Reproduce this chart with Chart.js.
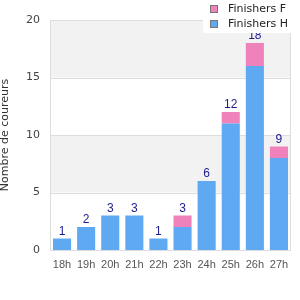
<!DOCTYPE html>
<html>
<head>
<meta charset="utf-8">
<script src="https://cdn.jsdelivr.net/npm/chart.js@4/dist/chart.umd.min.js"></script>
<style>
html,body{margin:0;padding:0;background:#fff;}
#wrap{width:300px;height:300px;position:relative;}
</style>
</head>
<body>
<div id="wrap"><canvas id="c" width="300" height="300"></canvas></div>
<script>
const categories = ["18h","19h","20h","21h","22h","23h","24h","25h","26h","27h"];
const finishersH = [1,2,3,3,1,2,6,11,16,8];
const finishersF = [0,0,0,0,0,1,0,1,2,1];
const seriesNames = ["Finishers F","Finishers H"];
const yTicks = [0,5,10,15,20];
const yTitle = "Nombre de coureurs";

const BLUE = "#5fa8f2";
const PINK = "#f082bb";
const FONT = "'Liberation Sans', Arial, sans-serif";
const FONT2 = "'DejaVu Sans', sans-serif";

const bandsPlugin = {
  id: 'bands',
  beforeDatasetsDraw(chart) {
    const {ctx, chartArea: a, scales: {y}} = chart;
    ctx.save();
    for (let i = 0; i < yTicks.length - 1; i++) {
      if (i % 2 === 1) {
        const top = y.getPixelForValue(yTicks[i+1]);
        const bot = y.getPixelForValue(yTicks[i]);
        ctx.fillStyle = "#f2f2f2";
        ctx.fillRect(a.left, top, a.right - a.left, bot - top);
      }
    }
    ctx.strokeStyle = "#dddddd";
    ctx.lineWidth = 1;
    yTicks.forEach(v => {
      const py = Math.round(y.getPixelForValue(v)) + 0.5;
      ctx.beginPath(); ctx.moveTo(a.left, py); ctx.lineTo(a.right, py); ctx.stroke();
    });
    ctx.beginPath();
    ctx.moveTo(Math.round(a.left)+0.5, a.top); ctx.lineTo(Math.round(a.left)+0.5, a.bottom);
    ctx.moveTo(Math.round(a.right)-0.5, a.top); ctx.lineTo(Math.round(a.right)-0.5, a.bottom);
    ctx.stroke();
    ctx.restore();
  },
  afterDatasetsDraw(chart) {
    const {ctx, scales: {x, y}} = chart;
    ctx.save();
    ctx.font = "12px " + FONT;
    ctx.fillStyle = "#1c1c8e";
    ctx.textAlign = "center";
    ctx.textBaseline = "alphabetic";
    categories.forEach((c, i) => {
      const total = finishersH[i] + finishersF[i];
      const px = x.getPixelForValue(i);
      const py = y.getPixelForValue(total);
      ctx.fillText(String(total), px, py - 4);
    });
    // legend
    ctx.fillStyle = "#ffffff";
    ctx.fillRect(203, 0, 88, 33);
    const items = [[seriesNames[0], PINK, 5], [seriesNames[1], BLUE, 20]];
    items.forEach(([name, col, yy]) => {
      ctx.fillStyle = col;
      ctx.fillRect(210, yy, 8, 8);
      ctx.strokeStyle = "#777777";
      ctx.lineWidth = 1;
      ctx.strokeRect(210.5, yy + 0.5, 7, 7);
      ctx.fillStyle = "#222222";
      ctx.textAlign = "left";
      ctx.textBaseline = "middle";
      ctx.font = "11px " + FONT2;
      ctx.fillText(name, 228, yy + 4);
    });
    ctx.restore();
  }
};

new Chart(document.getElementById('c'), {
  type: 'bar',
  data: {
    labels: categories,
    datasets: [
      { label: seriesNames[1], data: finishersH, backgroundColor: BLUE, stack: 's', categoryPercentage: 0.75, barPercentage: 1 },
      { label: seriesNames[0], data: finishersF, backgroundColor: PINK, stack: 's', categoryPercentage: 0.75, barPercentage: 1 }
    ]
  },
  options: {
    responsive: false,
    animation: false,
    layout: { padding: { top: 20, right: 9, left: 0, bottom: 0 } },
    plugins: { legend: { display: false }, tooltip: { enabled: false } },
    scales: {
      x: {
        stacked: true,
        grid: { display: false, drawTicks: false },
        border: { display: false },
        ticks: { color: "#555555", font: { family: FONT, size: 11 }, padding: 8, maxRotation: 0, autoSkip: false },
        afterFit(s) { s.height = 50; }
      },
      y: {
        stacked: true,
        min: 0, max: 20,
        afterBuildTicks(s) { s.ticks = yTicks.map(v => ({value: v})); },
        grid: { display: false, drawTicks: false },
        border: { display: false },
        ticks: { color: "#444444", font: { family: FONT2, size: 11 }, padding: 10 },
        title: { display: true, text: yTitle, color: "#333333", font: { family: FONT2, size: 11, lineHeight: 1 }, padding: 0 },
        afterFit(s) { s.width = 50; }
      }
    }
  },
  plugins: [bandsPlugin]
});
</script>
</body>
</html>
